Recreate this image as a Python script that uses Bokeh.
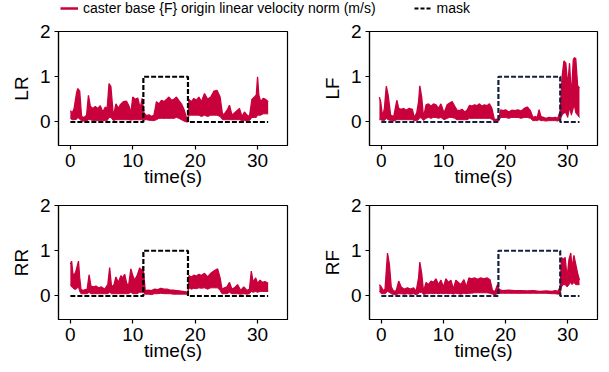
from bokeh.plotting import figure
from bokeh.layouts import column, row
from bokeh.models import Legend, LegendItem, Range1d, FixedTicker
from bokeh.embed import file_html
from bokeh.resources import INLINE

RED = "#c8003c"
FONT = "Liberation Sans"

# ---------------- data ----------------
lr_t = [0.0, 0.3, 0.6, 1.0, 1.2, 1.5, 1.8, 2.2, 2.6, 2.9,
        3.2, 3.6, 4.0, 4.4, 4.8, 5.2, 5.6, 5.9, 6.2, 6.5,
        6.9, 7.3, 7.7, 8.0, 8.5, 9.0, 9.4, 9.7, 10.0, 10.4,
        10.8, 11.2, 11.5, 11.8, 12.2, 12.6, 13.0, 13.4, 13.8, 14.2,
        14.6, 15.0, 15.4, 15.8, 16.2, 16.6, 17.0, 17.4, 17.8, 18.2,
        18.6, 18.85, 19.0, 19.4, 19.8, 20.2, 20.6, 21.0, 21.5, 22.0,
        22.5, 23.0, 23.5, 24.0, 24.4, 24.8, 25.2, 25.5, 25.9, 26.3,
        26.7, 27.1, 27.5, 27.9, 28.3, 28.7, 29.1, 29.5, 29.8, 30.0,
        30.2, 30.5, 30.9, 31.3, 31.7]
lr_hi = [0.25, 0.20, 0.30, 0.65, 0.74, 0.68, 0.12, 0.10, 0.15, 0.59,
         0.35, 0.30, 0.34, 0.30, 0.36, 0.22, 0.33, 0.30, 0.85, 0.78,
         0.12, 0.40, 0.30, 0.38, 0.45, 0.46, 0.35, 0.20, 0.55, 0.50,
         0.53, 0.30, 0.52, 0.20, 0.14, 0.16, 0.12, 0.15, 0.45, 0.40,
         0.48, 0.45, 0.50, 0.55, 0.48, 0.50, 0.55, 0.47, 0.40, 0.28,
         0.10, 0.02, 0.50, 0.45, 0.52, 0.48, 0.55, 0.45, 0.63, 0.50,
         0.55, 0.68, 0.70, 0.55, 0.15, 0.20, 0.28, 0.37, 0.15, 0.20,
         0.25, 0.30, 0.12, 0.22, 0.15, 0.12, 0.50, 0.55, 0.60, 1.00,
         0.60, 0.45, 0.52, 0.50, 0.45]
lr_lo = [0.08, 0.05, 0.05, 0.06, 0.10, 0.06, 0.02, 0.02, 0.02, 0.05,
         0.05, 0.03, 0.03, 0.03, 0.03, 0.03, 0.03, 0.03, 0.10, 0.10,
         0.03, 0.05, 0.05, 0.05, 0.05, 0.05, 0.05, 0.04, 0.05, 0.05,
         0.05, 0.05, 0.05, 0.05, 0.05, 0.04, 0.03, 0.03, 0.05, 0.08,
         0.08, 0.08, 0.08, 0.08, 0.08, 0.08, 0.10, 0.08, 0.05, 0.02,
         0.00, 0.00, 0.15, 0.15, 0.15, 0.15, 0.15, 0.12, 0.15, 0.12,
         0.15, 0.15, 0.15, 0.12, 0.05, 0.05, 0.05, 0.05, 0.05, 0.05,
         0.05, 0.05, 0.03, 0.03, 0.03, 0.03, 0.10, 0.10, 0.10, 0.15,
         0.15, 0.15, 0.18, 0.18, 0.18]

lf_t = [-0.3, -0.1, 0.2, 0.5, 0.8, 1.1, 1.5, 2.0, 2.5, 2.8,
        3.2, 3.6, 4.0, 4.5, 5.0, 5.3, 5.7, 6.0, 6.2, 6.5,
        6.8, 7.2, 7.6, 8.0, 8.4, 8.8, 9.2, 9.6, 10.1, 10.6,
        11.0, 11.4, 11.8, 12.2, 12.6, 13.0, 13.4, 13.8, 14.2, 14.6,
        15.0, 15.4, 15.8, 16.2, 16.6, 17.0, 17.4, 17.8, 18.2, 18.6,
        18.9, 19.2, 19.6, 20.0, 20.5, 21.0, 21.5, 22.0, 22.5, 23.0,
        23.5, 24.0, 24.4, 24.8, 25.1, 25.4, 25.7, 26.1, 26.5, 27.0,
        27.5, 28.0, 28.4, 28.8, 29.1, 29.4, 29.7, 30.0, 30.3, 30.6,
        30.9, 31.1, 31.3, 31.6, 31.9]
lf_hi = [0.55, 0.45, 0.12, 0.30, 0.79, 0.60, 0.15, 0.12, 0.48, 0.30,
         0.28, 0.30, 0.26, 0.30, 0.28, 0.10, 0.20, 0.45, 0.80, 0.55,
         0.10, 0.38, 0.40, 0.35, 0.40, 0.38, 0.30, 0.40, 0.20, 0.38,
         0.42, 0.45, 0.35, 0.26, 0.25, 0.28, 0.22, 0.26, 0.37, 0.35,
         0.38, 0.36, 0.40, 0.35, 0.38, 0.36, 0.40, 0.30, 0.05, 0.06,
         0.05, 0.27, 0.25, 0.27, 0.22, 0.26, 0.25, 0.27, 0.24, 0.30,
         0.33, 0.25, 0.10, 0.12, 0.10, 0.27, 0.12, 0.10, 0.08, 0.10,
         0.09, 0.10, 0.08, 0.25, 1.00, 1.35, 1.30, 0.80, 1.30, 0.55,
         1.38, 1.42, 1.40, 0.80, 0.75]
lf_lo = [0.05, 0.05, 0.03, 0.03, 0.08, 0.05, 0.03, 0.02, 0.05, 0.05,
         0.05, 0.05, 0.05, 0.05, 0.05, 0.03, 0.03, 0.05, 0.10, 0.08,
         0.03, 0.08, 0.10, 0.08, 0.10, 0.10, 0.08, 0.10, 0.05, 0.08,
         0.10, 0.10, 0.08, 0.05, 0.05, 0.05, 0.05, 0.05, 0.08, 0.08,
         0.08, 0.08, 0.08, 0.08, 0.08, 0.08, 0.08, 0.06, 0.02, 0.02,
         0.02, 0.10, 0.10, 0.10, 0.08, 0.10, 0.10, 0.10, 0.08, 0.10,
         0.10, 0.08, 0.03, 0.03, 0.03, 0.05, 0.03, 0.03, 0.02, 0.03,
         0.03, 0.03, 0.02, 0.05, 0.15, 0.20, 0.20, 0.10, 0.30, 0.15,
         0.30, 0.35, 0.20, 0.15, 0.10]

rr_t = [0.0, 0.2, 0.4, 0.6, 0.9, 1.3, 1.5, 1.7, 2.0, 2.4,
        2.7, 3.0, 3.3, 3.7, 4.1, 4.5, 5.0, 5.5, 6.0, 6.3,
        6.6, 7.0, 7.3, 7.7, 8.1, 8.4, 8.7, 9.0, 9.3, 9.7,
        10.0, 10.3, 10.7, 11.1, 11.4, 11.65, 12.0, 12.5, 13.0, 13.5,
        14.0, 14.5, 15.0, 15.5, 16.0, 16.5, 17.0, 17.5, 18.0, 18.5,
        18.85, 19.0, 19.4, 19.8, 20.2, 20.6, 21.0, 21.5, 22.0, 22.5,
        23.0, 23.6, 24.0, 24.3, 24.7, 25.1, 25.5, 25.9, 26.3, 26.8,
        27.3, 27.8, 28.3, 28.7, 29.0, 29.3, 29.7, 30.0, 30.4, 30.8,
        31.2, 31.7]
rr_hi = [0.70, 0.77, 0.50, 0.45, 0.55, 0.77, 0.40, 0.15, 0.12, 0.14,
         0.15, 0.47, 0.22, 0.20, 0.22, 0.18, 0.20, 0.15, 0.25, 0.63,
         0.20, 0.25, 0.42, 0.30, 0.45, 0.40, 0.48, 0.30, 0.20, 0.60,
         0.45, 0.35, 0.45, 0.62, 0.55, 0.65, 0.12, 0.13, 0.12, 0.15,
         0.14, 0.17, 0.15, 0.15, 0.13, 0.13, 0.12, 0.11, 0.10, 0.09,
         0.08, 0.45, 0.42, 0.46, 0.44, 0.48, 0.45, 0.50, 0.42, 0.50,
         0.55, 0.60, 0.40, 0.15, 0.18, 0.20, 0.30, 0.15, 0.18, 0.25,
         0.12, 0.20, 0.12, 0.15, 0.55, 0.30, 0.40, 0.28, 0.35, 0.30,
         0.32, 0.28]
rr_lo = [0.25, 0.20, 0.18, 0.15, 0.15, 0.20, 0.10, 0.05, 0.05, 0.05,
         0.05, 0.08, 0.05, 0.05, 0.05, 0.05, 0.05, 0.05, 0.05, 0.08,
         0.05, 0.05, 0.05, 0.05, 0.05, 0.05, 0.05, 0.05, 0.05, 0.08,
         0.05, 0.05, 0.05, 0.08, 0.08, 0.08, 0.04, 0.04, 0.03, 0.05,
         0.05, 0.06, 0.05, 0.05, 0.05, 0.04, 0.04, 0.04, 0.04, 0.04,
         0.04, 0.18, 0.15, 0.17, 0.16, 0.18, 0.17, 0.18, 0.15, 0.18,
         0.18, 0.18, 0.12, 0.05, 0.05, 0.05, 0.08, 0.05, 0.05, 0.05,
         0.04, 0.05, 0.04, 0.05, 0.10, 0.08, 0.10, 0.08, 0.10, 0.10,
         0.10, 0.10]

rf_t = [-0.3, 0.0, 0.3, 0.6, 1.0, 1.3, 1.6, 2.0, 2.4, 2.8,
        3.2, 3.7, 4.2, 4.7, 5.2, 5.6, 6.0, 6.2, 6.5, 6.8,
        7.2, 7.6, 8.0, 8.4, 8.8, 9.2, 9.6, 10.0, 10.4, 10.8,
        11.2, 11.6, 12.0, 12.4, 12.8, 13.3, 13.7, 14.1, 14.5, 15.0,
        15.5, 16.0, 16.5, 17.0, 17.5, 17.9, 18.3, 18.7, 19.0, 19.5,
        20.5, 21.5, 22.5, 23.5, 24.5, 25.5, 26.5, 27.5, 28.0, 28.4,
        28.8, 29.0, 29.3, 29.6, 29.9, 30.2, 30.5, 30.7, 31.0, 31.3,
        31.6, 31.9]
rf_hi = [0.25, 0.20, 0.12, 0.15, 0.95, 0.70, 0.20, 0.10, 0.12, 0.33,
         0.20, 0.15, 0.18, 0.15, 0.18, 0.10, 0.40, 0.75, 0.50, 0.10,
         0.30, 0.25, 0.33, 0.30, 0.38, 0.25, 0.35, 0.20, 0.38, 0.30,
         0.35, 0.15, 0.35, 0.30, 0.25, 0.36, 0.20, 0.40, 0.38, 0.40,
         0.37, 0.40, 0.38, 0.40, 0.36, 0.12, 0.10, 0.25, 0.14, 0.12,
         0.13, 0.12, 0.12, 0.11, 0.12, 0.10, 0.11, 0.10, 0.12, 0.10,
         0.20, 0.85, 0.80, 0.85, 0.40, 0.80, 0.95, 0.60, 0.90, 0.70,
         0.50, 0.35]
rf_lo = [0.10, 0.05, 0.05, 0.05, 0.10, 0.08, 0.05, 0.03, 0.03, 0.05,
         0.05, 0.04, 0.05, 0.04, 0.05, 0.03, 0.05, 0.08, 0.08, 0.03,
         0.05, 0.05, 0.06, 0.05, 0.06, 0.05, 0.06, 0.05, 0.06, 0.05,
         0.06, 0.04, 0.06, 0.05, 0.04, 0.06, 0.05, 0.06, 0.06, 0.07,
         0.07, 0.07, 0.07, 0.07, 0.06, 0.04, 0.03, 0.05, 0.06, 0.06,
         0.06, 0.06, 0.06, 0.06, 0.06, 0.06, 0.06, 0.05, 0.05, 0.04,
         0.05, 0.20, 0.25, 0.25, 0.20, 0.25, 0.30, 0.25, 0.30, 0.25,
         0.25, 0.25]

mask_v = [0, 0, 1, 1, 0, 0]
mask_lr_t = [0, 11.7, 11.7, 18.85, 18.85, 31.7]
mask_lf_t = [0, 18.85, 18.85, 28.8, 28.8, 31.9]
mask_rr_t = [0, 11.7, 11.7, 18.85, 18.85, 31.7]
mask_rf_t = [0, 18.85, 18.85, 28.8, 28.8, 31.9]

x_ticks = [0, 10, 20, 30]
y_ticks = [0, 1, 2]

VEL_LABEL = "caster base {F} origin linear velocity norm (m/s)"
MASK_LABEL = "mask"
NAVY = "#14213d"


def panel(name, t, lo, hi, mt, mask_color, width, height, bl, br, bt, bb):
    p = figure(width=width, height=height,
               x_range=Range1d(-1.9, 34.8), y_range=Range1d(-0.52, 2.0),
               toolbar_location=None, output_backend="svg",
               min_border_left=bl, min_border_right=br,
               min_border_top=bt, min_border_bottom=bb)
    p.varea(x=t, y1=lo, y2=hi, color=RED)
    p.line(t, hi, color=RED, line_width=1.3)
    p.line(t, lo, color=RED, line_width=1.0)
    p.line(mt, mask_v, color=mask_color, line_width=2.2, line_dash="5 2")
    p.grid.visible = False
    p.outline_line_color = "black"
    p.outline_line_width = 1.2
    p.outline_line_alpha = 1
    p.xaxis.ticker = FixedTicker(ticks=x_ticks)
    p.yaxis.ticker = FixedTicker(ticks=y_ticks)
    p.xaxis.axis_label = "time(s)"
    p.yaxis.axis_label = name
    for ax in (p.xaxis[0], p.yaxis[0]):
        ax.axis_line_width = 1.2
        ax.axis_line_color = "black"
        ax.major_tick_line_width = 1.2
        ax.major_tick_out = 4
        ax.major_tick_in = 0
        ax.minor_tick_out = 0
        ax.minor_tick_in = 0
        ax.major_label_text_font = FONT
        ax.major_label_text_font_size = "19px"
        ax.major_label_text_color = "black"
        ax.axis_label_text_font = FONT
        ax.axis_label_text_font_size = "19px"
        ax.axis_label_text_font_style = "normal"
        ax.axis_label_text_color = "black"
    p.xaxis.major_label_standoff = 4
    p.xaxis.axis_label_standoff = -4
    p.yaxis.major_label_standoff = 4
    p.yaxis.axis_label_standoff = 5
    return p


p1 = panel("LR", lr_t, lr_lo, lr_hi, mask_lr_t, "black", 310, 172, 58, 23, 9, 49)
p2 = panel("LF", lf_t, lf_lo, lf_hi, mask_lf_t, NAVY, 299, 172, 59, 12, 9, 49)
p3 = panel("RR", rr_t, rr_lo, rr_hi, mask_rr_t, "black", 310, 178, 58, 23, 11, 53)
p4 = panel("RF", rf_t, rf_lo, rf_hi, mask_rf_t, NAVY, 299, 178, 59, 12, 11, 53)

leg = figure(width=609, height=22, x_range=Range1d(0, 1), y_range=Range1d(0, 1),
             toolbar_location=None, output_backend="svg",
             min_border=0, outline_line_color=None)
leg.axis.visible = False
leg.grid.visible = False
r1 = leg.line([5, 6], [5, 5], color=RED, line_width=2.5)
r2 = leg.line([5, 6], [5, 5], color="black", line_width=2, line_dash="4 2")
legend = Legend(items=[LegendItem(label=VEL_LABEL, renderers=[r1]),
                       LegendItem(label=MASK_LABEL, renderers=[r2])],
                orientation="horizontal", location=(60, 4),
                label_text_font=FONT, label_text_font_size="14px",
                label_text_color="black",
                glyph_width=18, label_standoff=5, spacing=38,
                padding=0, margin=0, border_line_alpha=0,
                background_fill_alpha=0)
leg.add_layout(legend)

layout = column(leg, row(p1, p2), row(p3, p4))
open("out.html", "w").write(file_html(layout, INLINE))
